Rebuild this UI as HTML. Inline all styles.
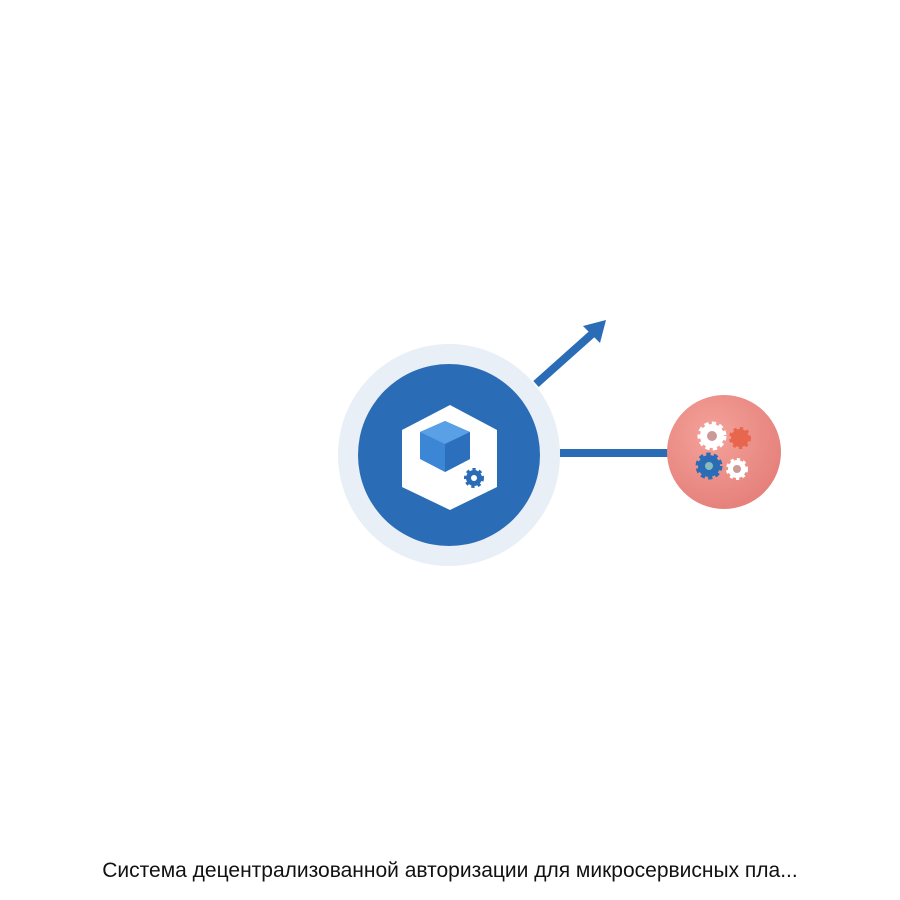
<!DOCTYPE html>
<html><head><meta charset="utf-8"><style>
body{margin:0;background:#fff;width:900px;height:900px;overflow:hidden;position:relative;font-family:"Liberation Sans",sans-serif}
.t{position:absolute;left:0;width:900px;top:859px;text-align:center;font-size:21px;color:#111}
</style></head><body>
<svg width="900" height="900" style="position:absolute;left:0;top:0">
<defs>
<radialGradient id="rg" cx="0.4" cy="0.35" r="0.7"><stop offset="0" stop-color="#f4a29a"/><stop offset="1" stop-color="#e57f7a"/></radialGradient>
</defs>
<line x1="536" y1="384" x2="592" y2="334" stroke="#2a6cb5" stroke-width="8"/>
<polygon points="606,320 583,326 600,343" fill="#2a6cb5"/>
<line x1="560" y1="453" x2="670" y2="453" stroke="#2a6cb5" stroke-width="8"/>
<circle cx="449" cy="455" r="111" fill="#e8eff7"/>
<circle cx="449" cy="455" r="91" fill="#2a6cb5"/>
<polygon points="450,405 497,430 497,487 450,510 402,487 402,430" fill="#fff"/>
<polygon points="445,421 470,432 470,459 445,472 420,459 420,432" fill="#3c86d6"/>
<polygon points="445,421 470,432 445,444 420,432" fill="#5aa0e6"/>
<polygon points="445,444 470,432 470,459 445,472" fill="#2b6fbd"/>
<circle cx="474" cy="478" r="8" fill="#2a6cb5" stroke="#2a6cb5" stroke-width="4" stroke-dasharray="3 3"/>
<circle cx="474" cy="478" r="3" fill="#fff"/>
<circle cx="724" cy="452" r="57" fill="url(#rg)"/>
<circle cx="712" cy="436" r="12" fill="#fff" stroke="#fff" stroke-width="5" stroke-dasharray="4 3"/>
<circle cx="712" cy="436" r="5" fill="#c99"/>
<circle cx="740" cy="438" r="9" fill="#e8664e" stroke="#e8664e" stroke-width="4" stroke-dasharray="3 3"/>
<circle cx="709" cy="466" r="11" fill="#2a6cb5" stroke="#2a6cb5" stroke-width="5" stroke-dasharray="4 3"/>
<circle cx="709" cy="466" r="4" fill="#8bb"/>
<circle cx="737" cy="469" r="9" fill="#fff" stroke="#fff" stroke-width="4" stroke-dasharray="3 3"/>
<circle cx="737" cy="469" r="4" fill="#c99"/>
</svg>
<div class="t">Система децентрализованной авторизации для микросервисных пла...</div>
</body></html>
